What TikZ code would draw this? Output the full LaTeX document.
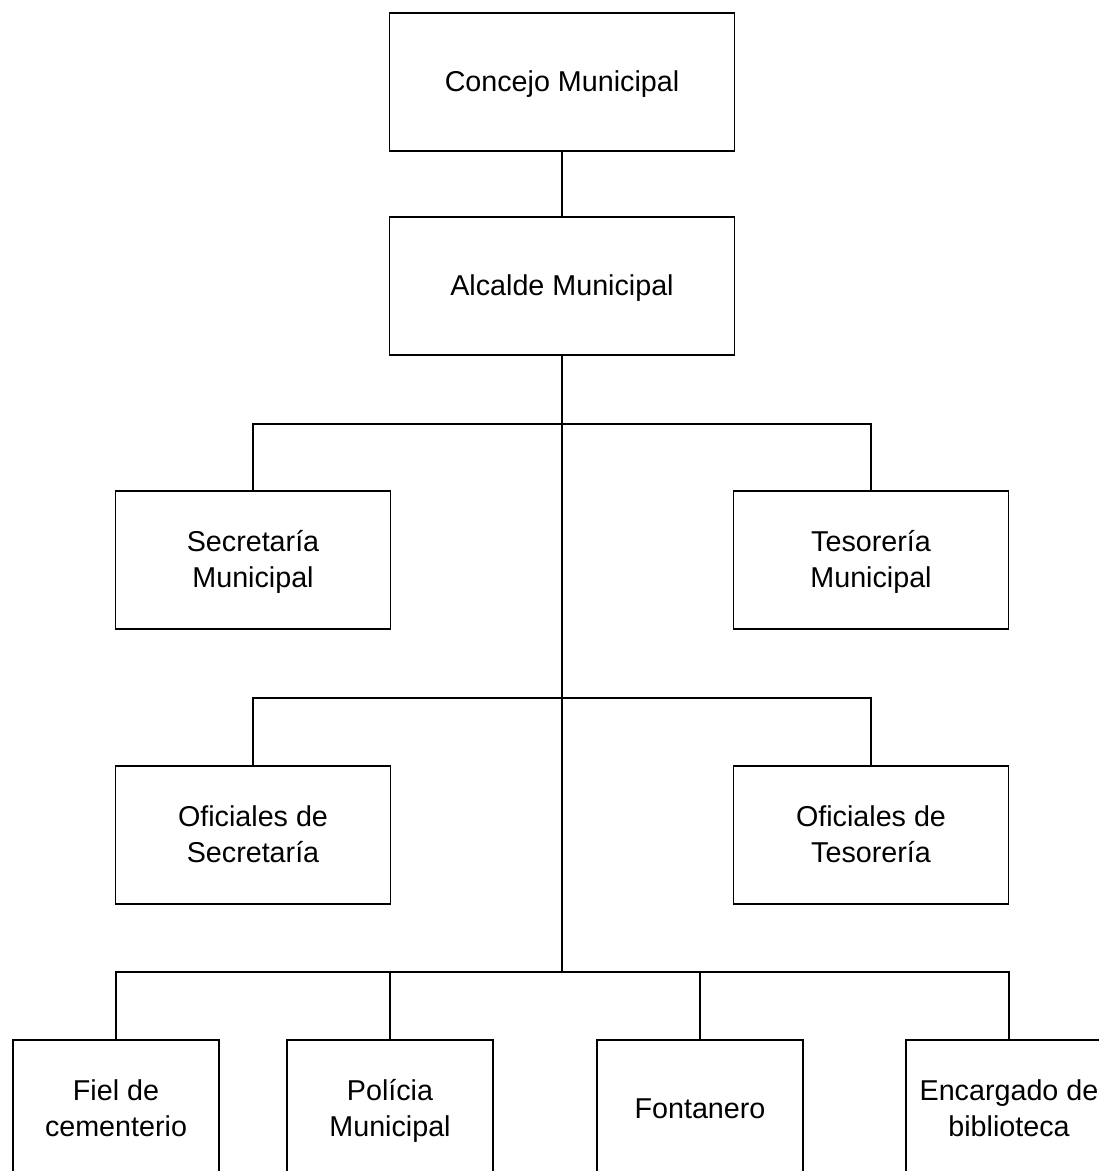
\documentclass[tikz,border=0pt]{standalone}
\usepackage{fontspec}
\setmainfont{Liberation Sans}
\newcommand\sline{\vphantom{Íg}}
\begin{document}
\begin{tikzpicture}[x=1pt,y=-1pt,
  box/.style={draw=black, line width=1.6pt, rectangle, inner sep=0pt, align=center,
    minimum height=138pt, font=\fontsize{28.7}{36}\selectfont},
  topbox/.style={box, minimum width=345pt},
  midbox/.style={box, minimum width=275pt},
  lowbox/.style={box, minimum width=206pt},
  conn/.style={draw=black, line width=1.6pt}]
\clip (0,0) rectangle (1099,1171);
\fill[white] (0,0) rectangle (1099,1171);
\node[topbox] (con) at (562,82) {\sline Concejo Municipal};
\node[topbox] (alc) at (562,286) {\sline Alcalde Municipal};
\node[midbox] (sec) at (253,560) {\sline Secretaría\\\sline Municipal};
\node[midbox] (tes) at (871,560) {\sline Tesorería\\\sline Municipal};
\node[midbox] (osec) at (253,835) {\sline Oficiales de\\\sline Secretaría};
\node[midbox] (otes) at (871,835) {\sline Oficiales de\\\sline Tesorería};
\node[lowbox] (fiel) at (116,1109) {\sline Fiel de\\\sline cementerio};
\node[lowbox] (pol) at (390,1109) {\sline Polícia\\\sline Municipal};
\node[lowbox] (fon) at (700,1109) {\sline Fontanero};
\node[lowbox] (enc) at (1009,1109) {\sline Encargado de\\\sline biblioteca};
\coordinate (b1) at (562,424);
\coordinate (b2) at (562,698);
\coordinate (b3) at (562,972);
\draw[conn] (con.south) -- (alc.north);
\draw[conn] (alc.south) -- (b3);
\draw[conn] (sec.north) |- (b1) -| (tes.north);
\draw[conn] (osec.north) |- (b2) -| (otes.north);
\draw[conn] (fiel.north) |- (b3) -| (enc.north);
\draw[conn] (b3) -| (pol.north);
\draw[conn] (b3) -| (fon.north);
\end{tikzpicture}
\end{document}
